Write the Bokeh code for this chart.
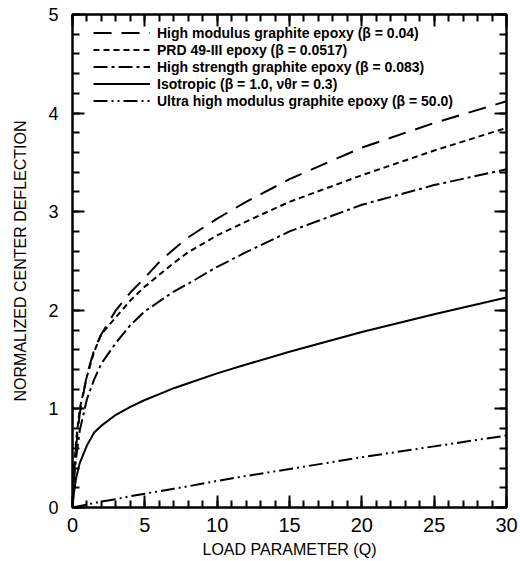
from bokeh.plotting import figure
from bokeh.models import (LinearAxis, Legend, LegendItem, FixedTicker, Range1d,
                          CustomJSTickFormatter)
from bokeh.embed import file_html
from bokeh.resources import INLINE

# ---- data ----
q = [0, 0.1, 0.25, 0.5, 1, 1.5, 2, 3, 4, 5, 6, 7, 8, 10, 12, 15, 20, 25, 30]
w_high_modulus = [0, 0.35, 0.62, 0.95, 1.35, 1.60, 1.76, 2.00, 2.18, 2.33, 2.49, 2.62, 2.74,
                  2.93, 3.10, 3.33, 3.65, 3.90, 4.12]
w_prd49 = [0, 0.38, 0.68, 1.00, 1.33, 1.58, 1.76, 1.93, 2.10, 2.24, 2.36, 2.48, 2.59,
           2.76, 2.90, 3.10, 3.37, 3.62, 3.85]
w_high_strength = [0, 0.28, 0.50, 0.78, 1.10, 1.30, 1.46, 1.67, 1.85, 1.99, 2.09, 2.19, 2.27,
                   2.44, 2.59, 2.80, 3.07, 3.27, 3.43]
w_isotropic = [0, 0.15, 0.30, 0.45, 0.63, 0.76, 0.83, 0.94, 1.02, 1.09, 1.15, 1.21, 1.26,
               1.36, 1.45, 1.58, 1.78, 1.96, 2.13]
q_ultra = [0, 1, 2, 3, 4, 5, 6, 7, 8, 10, 12, 15, 20, 25, 30]
w_ultra = [0, 0.03, 0.06, 0.085, 0.115, 0.14, 0.165, 0.19, 0.215, 0.27, 0.32, 0.39, 0.51, 0.62, 0.73]

labels = [
    "High modulus graphite epoxy (β = 0.04)",
    "PRD 49-III epoxy (β = 0.0517)",
    "High strength graphite epoxy (β = 0.083)",
    "Isotropic (β = 1.0, νθr = 0.3)",
    "Ultra high modulus graphite epoxy (β = 50.0)",
]
x_title = "LOAD PARAMETER (Q)"
y_title = "NORMALIZED CENTER DEFLECTION"
x_ticks = [0, 5, 10, 15, 20, 25, 30]
y_ticks = [0, 1, 2, 3, 4, 5]

# ---- figure ----
p = figure(width=520, height=560, x_range=Range1d(0, 30), y_range=Range1d(0, 5),
           output_backend="svg", toolbar_location=None,
           min_border_left=72, min_border_right=14, min_border_top=14, min_border_bottom=53)
p.grid.visible = False
p.outline_line_color = "black"
p.outline_line_width = 2
p.background_fill_color = "white"
p.border_fill_color = "white"

xt = FixedTicker(ticks=x_ticks, minor_ticks=[i for i in range(31)])
yt = FixedTicker(ticks=y_ticks, minor_ticks=[i * 0.2 for i in range(26)])

def style_axis(ax, ticker):
    ax.ticker = ticker
    ax.axis_line_width = 2
    ax.axis_line_color = "black"
    ax.major_tick_in = 12
    ax.major_tick_out = 0
    ax.minor_tick_in = 7
    ax.minor_tick_out = 0
    ax.major_tick_line_width = 2
    ax.minor_tick_line_width = 2
    ax.major_tick_line_color = "black"
    ax.minor_tick_line_color = "black"
    ax.major_label_text_font = "Liberation Sans"
    ax.major_label_text_color = "black"
    ax.axis_label_text_color = "black"
    ax.axis_label_text_font = "Liberation Sans"
    ax.axis_label_text_font_style = "normal"
    ax.axis_label_text_font_size = "16px"

xa = p.xaxis[0]
style_axis(xa, xt)
xa.major_label_text_font_size = "20px"
xa.major_label_standoff = 10
xa.axis_label = x_title
xa.axis_label_standoff = 6

ya = p.yaxis[0]
style_axis(ya, yt)
ya.major_label_text_font_size = "18px"
ya.major_label_standoff = 14
ya.axis_label = y_title
ya.axis_label_standoff = 16

blank = CustomJSTickFormatter(code="return ''")
ra = LinearAxis(formatter=blank)
style_axis(ra, yt)
ra.major_label_standoff = 0
p.add_layout(ra, "right")
ta = LinearAxis(formatter=blank)
style_axis(ta, xt)
ta.major_label_standoff = 0
p.add_layout(ta, "above")

# ---- curves ----
r1 = p.line(q, w_high_modulus, line_color="black", line_width=2, line_dash="18 10")
r2 = p.line(q, w_prd49, line_color="black", line_width=2, line_dash="6 4")
r3 = p.line(q, w_high_strength, line_color="black", line_width=2, line_dash="14 4 3 4")
r4 = p.line(q, w_isotropic, line_color="black", line_width=2)
r5 = p.line(q_ultra, w_ultra, line_color="black", line_width=2, line_dash="14 4 2 4 2 4")

legend = Legend(items=[LegendItem(label=l, renderers=[r]) for l, r in
                       zip(labels, [r1, r2, r3, r4, r5])],
                location=(21, 398))
legend.padding = 0
legend.margin = 0
legend.spacing = 0
legend.glyph_width = 57
legend.glyph_height = 17
legend.label_height = 17
legend.label_standoff = 7
legend.label_text_font = "Liberation Sans"
legend.label_text_font_style = "bold"
legend.label_text_font_size = "14px"
legend.label_text_color = "black"
legend.border_line_color = None
legend.background_fill_alpha = 0
p.add_layout(legend)

open("out.html", "w").write(file_html(p, INLINE))
